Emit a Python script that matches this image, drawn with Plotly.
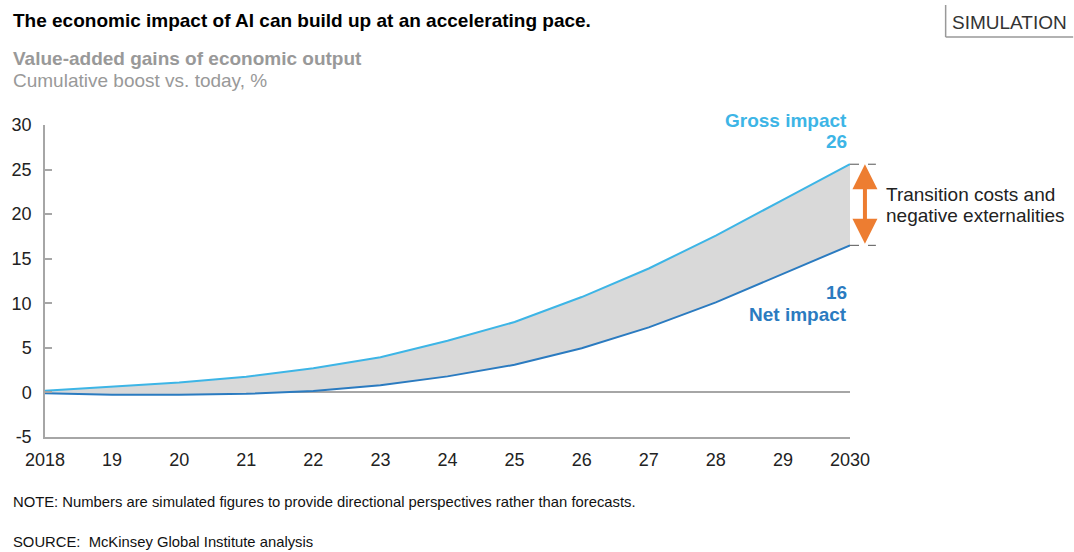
import plotly.graph_objects as go

years = [2018, 2019, 2020, 2021, 2022, 2023, 2024, 2025, 2026, 2027, 2028, 2029, 2030]
year_labels = ["2018", "19", "20", "21", "22", "23", "24", "25", "26", "27", "28", "29", "2030"]
gross = [0.2, 0.65, 1.1, 1.75, 2.7, 3.95, 5.8, 7.9, 10.7, 13.9, 17.6, 21.6, 25.6]
net = [-0.1, -0.25, -0.25, -0.15, 0.15, 0.8, 1.8, 3.1, 4.95, 7.3, 10.1, 13.3, 16.5]
y_ticks = [-5, 0, 5, 10, 15, 20, 25, 30]
y_tick_labels = ["-5", "0", "5", "10", "15", "20", "25", "30"]

FONT = "Liberation Sans, Arial, sans-serif"
GROSS_C = "#3DB5E6"
NET_C = "#2B7BC0"
ORANGE = "#ED7D31"

L, R, T, B = 42, 850, 125, 437
W, H = 1074, 552


def px(x):
    return (x - L) / (R - L)


def py(y):
    return (B - y) / (B - T)


fig = go.Figure()
fig.add_trace(go.Scatter(x=years, y=net, mode="lines", line=dict(color=NET_C, width=2),
                         hoverinfo="skip", showlegend=False))
fig.add_trace(go.Scatter(x=years, y=gross, mode="lines", line=dict(color=GROSS_C, width=2),
                         fill="tonexty", fillcolor="#D9D9D9", hoverinfo="skip", showlegend=False))

ann = []


def text_at(x, y, text, size, color, anchor="left"):
    ann.append(dict(x=px(x), y=py(y), xref="paper", yref="paper", xanchor=anchor, yanchor="middle",
                    text=text, showarrow=False, font=dict(family=FONT, size=size, color=color)))


# Titles
text_at(8, 20, "<b>The economic impact of AI can build up at an accelerating pace.</b>", 19, "#000000")
text_at(8, 58, "<b>Value-added gains of economic output</b>", 19, "#999999")
text_at(8, 80, "Cumulative boost vs. today, %", 19, "#999999")
text_at(1010, 22, "SIMULATION", 19, "#333333", "center")
# Footnotes
text_at(8, 502, "NOTE: Numbers are simulated figures to provide directional perspectives rather than forecasts.",
        14.8, "#111111")
text_at(8, 542, "SOURCE:  McKinsey Global Institute analysis", 14.8, "#111111")
# Series labels
text_at(849, 120, "<b>Gross impact</b>", 19, GROSS_C, "right")
text_at(849, 141, "<b>%d</b>" % round(gross[-1]), 19, GROSS_C, "right")
text_at(849, 292, "<b>%d</b>" % round(net[-1]), 19, NET_C, "right")
text_at(849, 314, "<b>Net impact</b>", 19, NET_C, "right")
text_at(884, 194, "Transition costs and", 19, "#222222")
text_at(884, 215, "negative externalities", 19, "#222222")

# Double arrow (x in paper, y on the data axis)
ann.append(dict(x=px(865), y=gross[-1], ax=0, ay=net[-1], xref="paper", yref="y",
                axref="pixel", ayref="y", text="", showarrow=True, arrowhead=2, arrowside="end+start",
                arrowsize=1.25, arrowwidth=4, arrowcolor=ORANGE, startarrowhead=2, startarrowsize=1.25))

shapes = [
    dict(type="line", xref="paper", yref="y", x0=px(850), x1=px(876), y0=gross[-1], y1=gross[-1],
         line=dict(color="#555555", width=1, dash="dash")),
    dict(type="line", xref="paper", yref="y", x0=px(850), x1=px(876), y0=net[-1], y1=net[-1],
         line=dict(color="#555555", width=1, dash="dash")),
    dict(type="line", xref="paper", yref="paper", x0=px(946), x1=px(946), y0=py(5), y1=py(37),
         line=dict(color="#999999", width=1.5)),
    dict(type="line", xref="paper", yref="paper", x0=px(946), x1=px(1074), y0=py(37), y1=py(37),
         line=dict(color="#999999", width=1.5)),
]

fig.update_layout(
    width=W, height=H,
    margin=dict(l=L, r=W - R, t=T, b=H - B, pad=0),
    paper_bgcolor="white", plot_bgcolor="white",
    annotations=ann, shapes=shapes, showlegend=False,
    xaxis=dict(range=[years[0], years[-1]], tickvals=years, ticktext=year_labels,
               showgrid=False, zeroline=False, showline=True, linecolor="#A6A6A6", linewidth=1.5,
               ticks="", tickfont=dict(family=FONT, size=18, color="#222222"), ticklabelstandoff=6,
               fixedrange=True),
    yaxis=dict(range=[-5, 30], tickvals=y_ticks, ticktext=y_tick_labels, showgrid=False,
               zeroline=True, zerolinecolor="#A6A6A6", zerolinewidth=1.5,
               showline=True, linecolor="#A6A6A6", linewidth=1.5,
               ticks="inside", ticklen=7, tickcolor="#A6A6A6", tickwidth=1.5,
               tickfont=dict(family=FONT, size=18, color="#222222"), ticklabelstandoff=8,
               fixedrange=True),
)

fig.write_html("out.html")
